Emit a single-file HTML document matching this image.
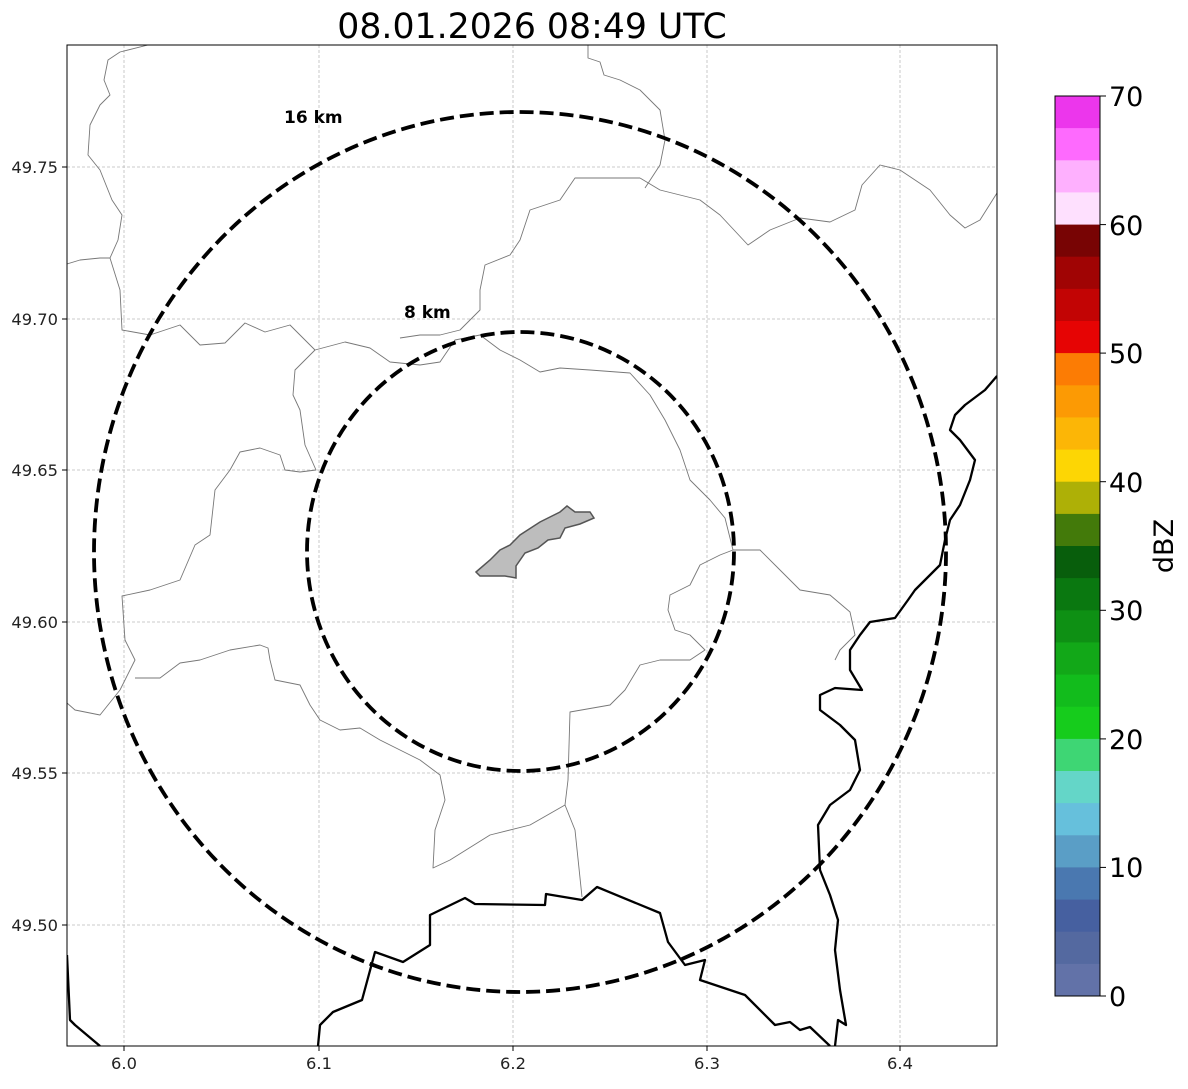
<!DOCTYPE html>
<html><head><meta charset="utf-8"><style>
body{margin:0;background:#fff;}
svg text{font-family:"DejaVu Sans","Liberation Sans",sans-serif;}
</style></head><body>
<svg width="1188" height="1084" viewBox="0 0 1188 1084" xmlns="http://www.w3.org/2000/svg">
<rect width="1188" height="1084" fill="#fff"/>
<text x="532" y="38" font-size="34.7" text-anchor="middle" fill="#000">08.01.2026 08:49 UTC</text>
<defs><clipPath id="c"><rect x="67" y="45" width="930" height="1001"/></clipPath></defs>
<g stroke="#bbb" stroke-width="0.8" stroke-dasharray="3,2">
<line x1="124" y1="45" x2="124" y2="1046"/><line x1="319" y1="45" x2="319" y2="1046"/><line x1="513" y1="45" x2="513" y2="1046"/><line x1="707" y1="45" x2="707" y2="1046"/><line x1="900" y1="45" x2="900" y2="1046"/>
<line x1="67" y1="167" x2="997" y2="167"/><line x1="67" y1="319" x2="997" y2="319"/><line x1="67" y1="470" x2="997" y2="470"/><line x1="67" y1="622" x2="997" y2="622"/><line x1="67" y1="773" x2="997" y2="773"/><line x1="67" y1="925" x2="997" y2="925"/>
</g>
<g clip-path="url(#c)" fill="none">
<g stroke="#777" stroke-width="0.9" stroke-linejoin="round">
<polyline points="148,45 120,52 108,60 104,80 110,95 100,105 90,125 88,155 100,170 112,200 122,215 118,240 110,258 100,258 80,260 67,264"/>
<polyline points="110,258 120,290 122,330 150,335 180,325 200,345 225,343 245,323 265,332 290,325 315,350 345,342 370,348 390,362 420,365 440,362 455,340 480,335 500,350 520,360 540,372 560,368 590,370 630,373 650,395 665,420 680,450 690,480 710,500 725,518 733,550"/>
<polyline points="315,350 295,370 293,395 300,410 305,445 316,470 300,472 285,470 280,455 260,448 240,452 230,470 215,490 210,535 195,545 180,580 150,590 122,596 125,640 135,660 120,690 100,715 75,710 67,703"/>
<polyline points="135,678 160,678 180,663 200,660 230,650 260,645 268,648 270,660 275,680 300,685 310,705 320,720 340,730 360,728 380,740 400,750 420,760 440,775 445,800 435,830 433,868 450,860 490,835 530,825 565,805 575,830 582,897"/>
<polyline points="565,805 568,780 570,712 610,705 625,690 640,665 660,660 690,660 705,650 690,635 675,630 668,610 670,595 690,585 700,565 720,555 733,550 760,550 780,570 800,590 830,595 850,612 855,635 840,650 835,660"/>
<polyline points="575,45 588,45 588,58 600,62 604,75 620,80 640,90 660,110 665,140 660,165 645,188"/>
<polyline points="640,178 575,178 560,200 530,210 520,240 510,255 485,265 480,290 480,310 460,330 440,335 420,335 400,338"/>
<polyline points="640,178 660,190 700,200 720,215 748,245 770,230 800,218 830,222 855,210 862,185 880,165 900,170 930,190 950,215 965,228 980,220 997,193"/>
</g>
<g stroke="#000" stroke-width="2.3" stroke-linejoin="round">
<polyline points="67,955 70,1020 75,1025 100,1046"/>
<polyline points="318,1046 320,1025 333,1012 362,1000 375,952 403,962 430,945 430,915 465,898 475,904 545,905 546,894 582,900 597,887 660,913 668,942 685,965 705,960 700,980 745,995 775,1025 790,1022 800,1030 810,1027 830,1046"/>
<polyline points="835,1046 838,1020 846,1025 840,990 835,950 838,920 830,895 820,870 818,825 830,805 850,790 860,770 855,740 840,725 820,710 820,695 835,688 862,690 850,670 850,650 860,635 870,622 895,618 908,600 915,590 925,580 940,565 945,540 950,520 960,505 970,480 975,460 960,440 950,430 955,415 965,405 985,390 997,376"/>
</g>
<polygon points="476,572 490,560 500,550 510,545 520,535 540,522 548,518 560,512 567,506 575,512 590,512 594,518 580,524 565,528 560,538 548,540 538,548 525,553 516,566 516,578 505,576 480,576" fill="#bdbdbd" stroke="#555" stroke-width="1.5"/>
<g stroke="#000" stroke-width="3.8" stroke-dasharray="14,6">
<ellipse cx="520" cy="552" rx="426" ry="440"/>
<ellipse cx="520.5" cy="551.5" rx="213.5" ry="219.5"/>
</g>
</g>
<text x="284" y="123" font-size="17" font-weight="bold">16 km</text>
<text x="404" y="318" font-size="17" font-weight="bold">8 km</text>
<rect x="67" y="45" width="930" height="1001" fill="none" stroke="#000" stroke-width="1"/>
<g font-size="16.3" fill="#222" text-anchor="end">
<text x="58" y="173">49.75</text><text x="58" y="325">49.70</text><text x="58" y="476">49.65</text><text x="58" y="628">49.60</text><text x="58" y="779">49.55</text><text x="58" y="931">49.50</text>
</g>
<g font-size="16.3" fill="#222" text-anchor="middle">
<text x="124" y="1069">6.0</text><text x="319" y="1069">6.1</text><text x="513" y="1069">6.2</text><text x="707" y="1069">6.3</text><text x="900" y="1069">6.4</text>
</g>
<g stroke="#000" stroke-width="1">
<line x1="62" y1="167" x2="67" y2="167"/><line x1="62" y1="319" x2="67" y2="319"/><line x1="62" y1="470" x2="67" y2="470"/><line x1="62" y1="622" x2="67" y2="622"/><line x1="62" y1="773" x2="67" y2="773"/><line x1="62" y1="925" x2="67" y2="925"/>
<line x1="124" y1="1046" x2="124" y2="1051"/><line x1="319" y1="1046" x2="319" y2="1051"/><line x1="513" y1="1046" x2="513" y2="1051"/><line x1="707" y1="1046" x2="707" y2="1051"/><line x1="900" y1="1046" x2="900" y2="1051"/>
</g>
<g>
<rect x="1055" y="96.0" width="45" height="32.6" fill="#ec36ec"/>
<rect x="1055" y="128.1" width="45" height="32.6" fill="#fe6afe"/>
<rect x="1055" y="160.3" width="45" height="32.6" fill="#feb0fe"/>
<rect x="1055" y="192.4" width="45" height="32.6" fill="#fee0fe"/>
<rect x="1055" y="224.6" width="45" height="32.6" fill="#780404"/>
<rect x="1055" y="256.7" width="45" height="32.6" fill="#a00404"/>
<rect x="1055" y="288.9" width="45" height="32.6" fill="#c20404"/>
<rect x="1055" y="321.0" width="45" height="32.6" fill="#e60404"/>
<rect x="1055" y="353.1" width="45" height="32.6" fill="#fc7c04"/>
<rect x="1055" y="385.3" width="45" height="32.6" fill="#fc9a04"/>
<rect x="1055" y="417.4" width="45" height="32.6" fill="#fcb606"/>
<rect x="1055" y="449.6" width="45" height="32.6" fill="#fdd604"/>
<rect x="1055" y="481.7" width="45" height="32.6" fill="#aeb006"/>
<rect x="1055" y="513.9" width="45" height="32.6" fill="#437a0a"/>
<rect x="1055" y="546.0" width="45" height="32.6" fill="#085e0c"/>
<rect x="1055" y="578.1" width="45" height="32.6" fill="#0a7810"/>
<rect x="1055" y="610.3" width="45" height="32.6" fill="#0e9014"/>
<rect x="1055" y="642.4" width="45" height="32.6" fill="#12a818"/>
<rect x="1055" y="674.6" width="45" height="32.6" fill="#12bc1c"/>
<rect x="1055" y="706.7" width="45" height="32.6" fill="#16cc1c"/>
<rect x="1055" y="738.9" width="45" height="32.6" fill="#3ed674"/>
<rect x="1055" y="771.0" width="45" height="32.6" fill="#64d6c8"/>
<rect x="1055" y="803.1" width="45" height="32.6" fill="#66c0dc"/>
<rect x="1055" y="835.3" width="45" height="32.6" fill="#5a9ec6"/>
<rect x="1055" y="867.4" width="45" height="32.6" fill="#4a78b0"/>
<rect x="1055" y="899.6" width="45" height="32.6" fill="#4660a0"/>
<rect x="1055" y="931.7" width="45" height="32.6" fill="#5469a0"/>
<rect x="1055" y="963.9" width="45" height="32.1" fill="#6272a8"/>
<rect x="1055" y="96" width="45" height="900" fill="none" stroke="#000" stroke-width="1"/>
</g>
<g stroke="#000" stroke-width="1">
<line x1="1100" y1="96" x2="1106" y2="96"/><line x1="1100" y1="224.6" x2="1106" y2="224.6"/><line x1="1100" y1="353.1" x2="1106" y2="353.1"/><line x1="1100" y1="481.7" x2="1106" y2="481.7"/><line x1="1100" y1="610.3" x2="1106" y2="610.3"/><line x1="1100" y1="738.9" x2="1106" y2="738.9"/><line x1="1100" y1="867.4" x2="1106" y2="867.4"/><line x1="1100" y1="996" x2="1106" y2="996"/>
</g>
<g font-size="27" fill="#000">
<text x="1109" y="106">70</text><text x="1109" y="235">60</text><text x="1109" y="363">50</text><text x="1109" y="492">40</text><text x="1109" y="620">30</text><text x="1109" y="749">20</text><text x="1109" y="877">10</text><text x="1109" y="1006">0</text>
</g>
<text transform="translate(1173,546) rotate(-90)" font-size="27" text-anchor="middle">dBZ</text>
</svg>
</body></html>
